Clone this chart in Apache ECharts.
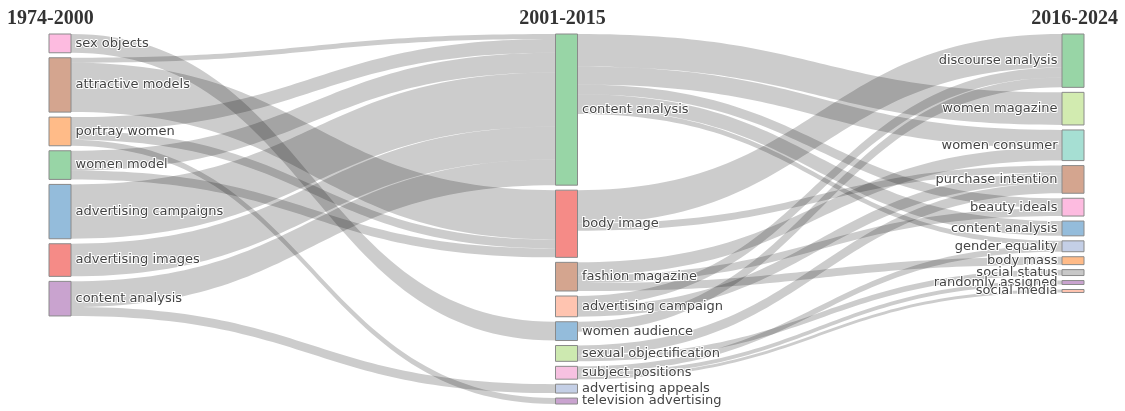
<!DOCTYPE html>
<html>
<head>
<meta charset="utf-8">
<script src="https://cdn.jsdelivr.net/npm/echarts@6/dist/echarts.min.js"></script>
<style>
  html, body { margin: 0; padding: 0; background: #fff; }
  #chart { width: 1125px; height: 411px; }
</style>
</head>
<body>
<div id="chart"></div>
<script>
// column headers
const periods = ['1974-2000', '2001-2015', '2016-2024']

// keywords of each period, top to bottom
const earlyTerms = ['sex objects', 'attractive models', 'portray women', 'women model',
  'advertising campaigns', 'advertising images', 'content analysis']
const midTerms = ['content analysis', 'body image', 'fashion magazine', 'advertising campaign',
  'women audience', 'sexual objectification', 'subject positions', 'advertising appeals',
  'television advertising']
const lateTerms = ['discourse analysis', 'women magazine', 'women consumer', 'purchase intention',
  'beauty ideals', 'content analysis', 'gender equality', 'body mass', 'social status',
  'randomly assigned', 'social media']

// flows 1974-2000 -> 2001-2015
const earlyLinks = [
  ['sex objects', 'women audience', 19],
  ['attractive models', 'body image', 50],
  ['attractive models', 'content analysis', 5],
  ['portray women', 'content analysis', 14],
  ['portray women', 'body image', 9],
  ['portray women', 'television advertising', 6],
  ['women model', 'content analysis', 20],
  ['women model', 'body image', 9],
  ['advertising campaigns', 'content analysis', 55],
  ['advertising images', 'content analysis', 33],
  ['content analysis', 'content analysis', 26],
  ['content analysis', 'advertising appeals', 9]
]

// flows 2001-2015 -> 2016-2024
const lateLinks = [
  ['content analysis', 'women magazine', 33],
  ['content analysis', 'women consumer', 18],
  ['content analysis', 'beauty ideals', 10],
  ['content analysis', 'content analysis', 15],
  ['content analysis', 'gender equality', 5],
  ['body image', 'discourse analysis', 34],
  ['body image', 'purchase intention', 7],
  ['fashion magazine', 'women consumer', 13],
  ['fashion magazine', 'beauty ideals', 8],
  ['fashion magazine', 'body mass', 8],
  ['advertising campaign', 'discourse analysis', 10],
  ['advertising campaign', 'purchase intention', 11],
  ['women audience', 'discourse analysis', 10],
  ['sexual objectification', 'purchase intention', 10],
  ['sexual objectification', 'social status', 6],
  ['subject positions', 'gender equality', 6],
  ['subject positions', 'randomly assigned', 4],
  ['subject positions', 'social media', 3]
]

const earlyColors = ['#fdbbe0', '#d4a58f', '#ffbb88', '#98d5a6', '#94bcdb', '#f58b87', '#c9a3cf']
const midColors = ['#98d5a6', '#f58b87', '#d4a58f', '#ffc4b0', '#94bcdb', '#cde9b0', '#f7c1e1',
  '#c4cfe6', '#c9a3cf']
const lateColors = ['#98d5a6', '#d2ebb0', '#a6dfd3', '#d4a58f', '#fdbbe0', '#94bcdb', '#c4cfe6',
  '#ffbb88', '#c8c8c8', '#c9a3cf', '#ffc4b0']

// same keyword can sit in several columns, so node names get a column prefix
const key = (col, term) => col + '|' + term

const nodes = []
;[[earlyTerms, earlyColors], [midTerms, midColors], [lateTerms, lateColors]].forEach(([terms, colors], col) => {
  terms.forEach((t, i) => {
    nodes.push({
      name: key(col, t),
      depth: col,
      itemStyle: { color: colors[i] },
      label: { position: col === 2 ? 'left' : 'right' }
    })
  })
})

const links = [
  ...earlyLinks.map(([s, t, v]) => ({ source: key(0, s), target: key(1, t), value: v })),
  ...lateLinks.map(([s, t, v]) => ({ source: key(1, s), target: key(2, t), value: v }))
]

const headerStyle = {
  fontFamily: '"Liberation Serif", "DejaVu Serif", serif',
  fontSize: 20,
  fontWeight: 'bold',
  color: '#333'
}

const chart = echarts.init(document.getElementById('chart'))
chart.setOption({
  animation: false,
  title: [
    { text: periods[0], left: 2, top: 4, textStyle: headerStyle },
    { text: periods[1], left: 'center', top: 4, textStyle: headerStyle },
    { text: periods[2], right: 2, top: 4, textStyle: headerStyle }
  ],
  series: [{
    type: 'sankey',
    left: 49,
    right: 41,
    top: 34,
    bottom: 7,
    nodeWidth: 22,
    nodeGap: 5,
    layoutIterations: 0,
    draggable: false,
    emphasis: { disabled: true },
    itemStyle: {
      borderColor: '#8a8a8a',
      borderWidth: 1
    },
    lineStyle: {
      color: '#000',
      opacity: 0.2,
      curveness: 0.5
    },
    label: {
      fontFamily: '"DejaVu Sans", Verdana, sans-serif',
      fontSize: 13,
      color: '#444',
      distance: 4,
      textBorderColor: '#fff',
      textBorderWidth: 2,
      formatter: p => p.name.split('|')[1]
    },
    data: nodes,
    links: links
  }]
})
</script>
</body>
</html>
